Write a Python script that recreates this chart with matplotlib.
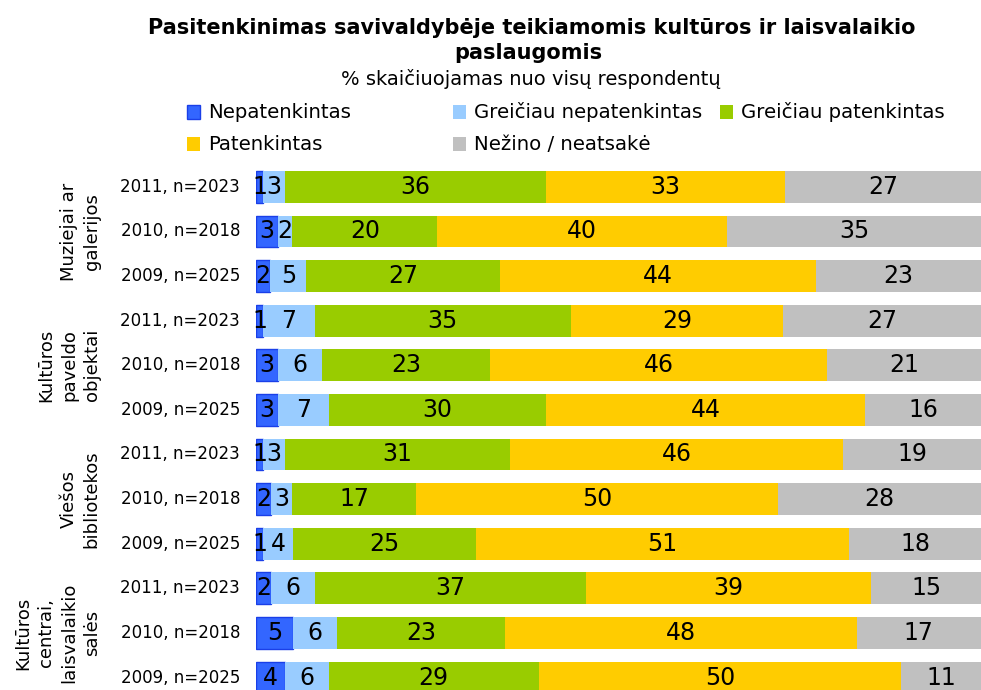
import numpy as np
import matplotlib.pyplot as plt
from matplotlib.patches import Rectangle

plt.rcParams['font.family'] = ['DejaVu Sans']

series = ['Nepatenkintas', 'Greičiau nepatenkintas', 'Greičiau patenkintas',
          'Patenkintas', 'Nežino / neatsakė']
colors = ['#3366FF', '#99CCFF', '#99CC00', '#FFCC00', '#C0C0C0']
blue_edge = '#1A3FE8'

groups = ['Muziejai ar\ngalerijos', 'Kultūros\npaveldo\nobjektai',
          'Viešos\nbibliotekos', 'Kultūros\ncentrai,\nlaisvalaikio\nsalės']
years = ['2011, n=2023', '2010, n=2018', '2009, n=2025']

nepatenkintas = [1, 3, 2, 1, 3, 3, 1, 2, 1, 2, 5, 4]
greiciau_nep = [3, 2, 5, 7, 6, 7, 3, 3, 4, 6, 6, 6]
greiciau_pat = [36, 20, 27, 35, 23, 30, 31, 17, 25, 37, 23, 29]
patenkintas = [33, 40, 44, 29, 46, 44, 46, 50, 51, 39, 48, 50]
nezino = [27, 35, 23, 27, 21, 16, 19, 28, 18, 15, 17, 11]

data = np.array([nepatenkintas, greiciau_nep, greiciau_pat, patenkintas, nezino], dtype=float)
share = data / data.sum(axis=0) * 100

W, H = 981, 690
fig = plt.figure(figsize=(W / 100, H / 100), dpi=100)
ax = fig.add_axes([256 / W, 0, 725 / W, (H - 165) / H])

rows = np.arange(12)
left = np.zeros(12)
for k in range(5):
    ax.barh(rows, share[k], left=left, height=0.71, color=colors[k],
            edgecolor=blue_edge if k == 0 else 'none', linewidth=1 if k == 0 else 0)
    for i in rows:
        ax.text(left[i] + share[k][i] / 2, i, '%d' % data[k][i],
                ha='center', va='center', fontsize=17, color='black')
    left += share[k]

ax.set_xlim(0, 100)
ax.set_ylim(11.28, -0.49)
ax.axis('off')

# row labels
for i in rows:
    ax.text(-2.2, i, years[i % 3], ha='right', va='center', fontsize=12)

# group labels
for g, name in enumerate(groups):
    ax.text(-21.4, g * 3 + 1, name, rotation=90, ha='right', va='center',
            multialignment='center', fontsize=13, linespacing=1.35)

# title
fig.text(532 / W, 1 - 28 / H,
         'Pasitenkinimas savivaldybėje teikiamomis kultūros ir laisvalaikio',
         ha='center', va='center', fontsize=15, fontweight='bold')
fig.text(528 / W, 1 - 53 / H, 'paslaugomis',
         ha='center', va='center', fontsize=15, fontweight='bold')
fig.text(531 / W, 1 - 79 / H, '% skaičiuojamas nuo visų respondentų',
         ha='center', va='center', fontsize=14)

# legend, laid out in rows like the original
leg_x = [187, 453, 720]
leg_y = [112, 144]
for k, name in enumerate(series):
    r, c = divmod(k, 3)
    x, y = leg_x[c], leg_y[r]
    fig.add_artist(Rectangle((x / W, 1 - (y + 7) / H), 13 / W, 14 / H,
                             transform=fig.transFigure, facecolor=colors[k],
                             edgecolor=blue_edge if k == 0 else 'none', linewidth=1))
    fig.text((x + 21) / W, 1 - y / H, name, ha='left', va='center', fontsize=14.2)

fig.savefig('out.png', dpi=100)
